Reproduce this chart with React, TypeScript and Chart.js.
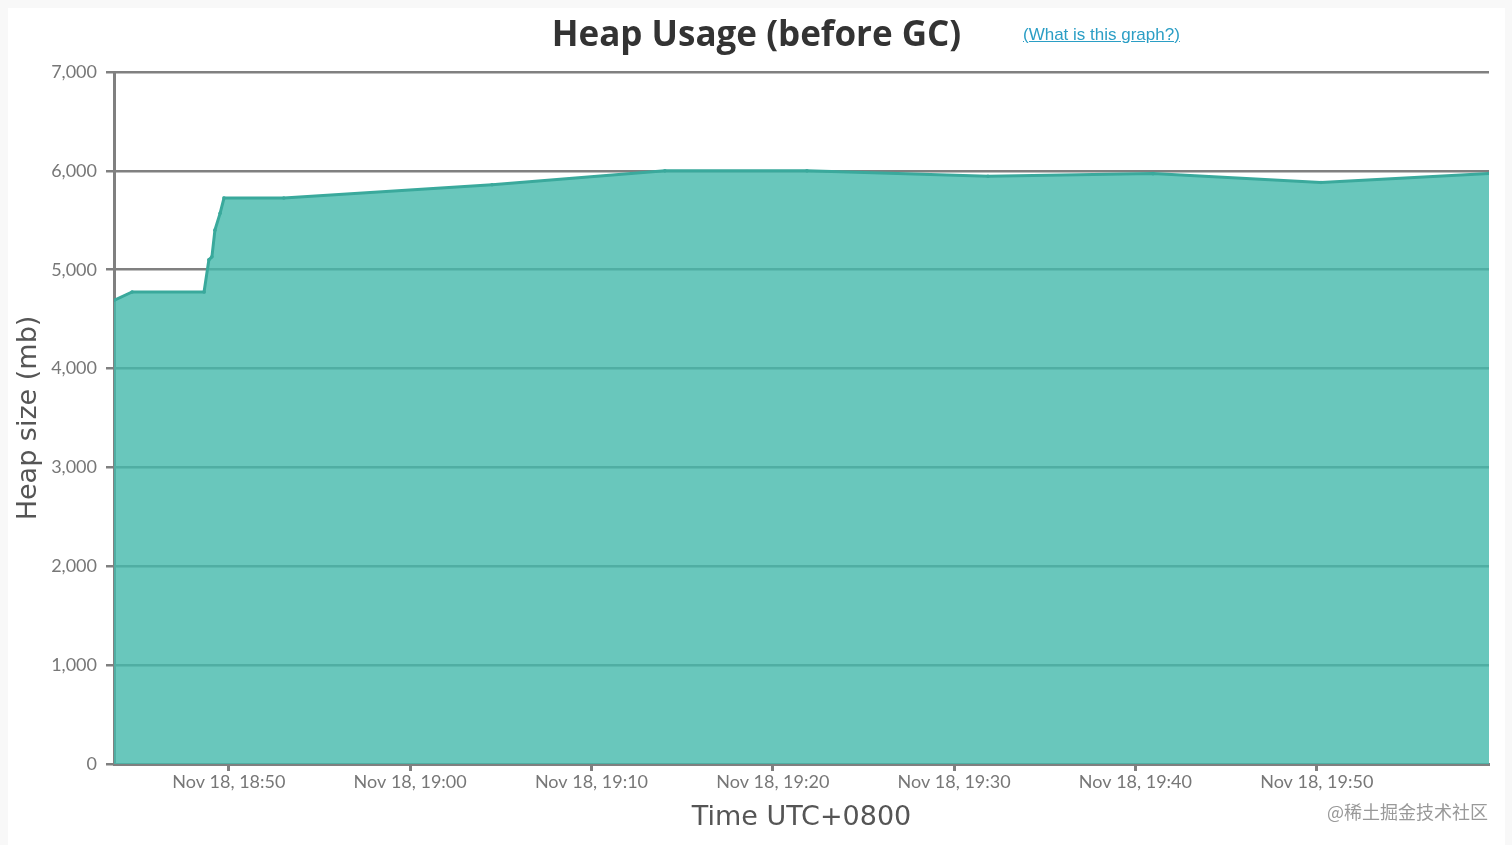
import React, { useEffect, useRef } from "react";
import { Chart, registerables } from "chart.js";

Chart.register(...registerables);

// Sample times (local, UTC+0800, Nov 18)
const sampleTimes = [
  "18:43:40", "18:44:40", "18:48:38", "18:48:54", "18:49:04", "18:49:14",
  "18:49:31", "18:49:44", "18:53:02", "19:04:31", "19:14:03", "19:21:53",
  "19:31:52", "19:40:58", "19:50:14", "19:59:30",
];
// Heap size before GC (mb)
const heapMb = [
  4690, 4775, 4775, 5100, 5130, 5400,
  5570, 5725, 5725, 5860, 6000, 6000,
  5945, 5972, 5882, 5974,
];
const xTickTimes = ["18:50", "19:00", "19:10", "19:20", "19:30", "19:40", "19:50"];
const xRange = ["18:43:40", "19:59:30"];
const yTicks = [0, 1000, 2000, 3000, 4000, 5000, 6000, 7000];
const datePrefix = "Nov 18, ";

const toMin = (s: string) => {
  const [h, m, sec = 0] = s.split(":").map(Number);
  return h * 60 + m + sec / 60;
};

const GRAY = "#808080";

export default function App() {
  const ref = useRef<HTMLCanvasElement | null>(null);

  useEffect(() => {
    if (!ref.current) return;
    const chart = new Chart(ref.current, {
      type: "line",
      data: {
        datasets: [
          {
            data: sampleTimes.map((t, i) => ({ x: toMin(t), y: heapMb[i] })),
            fill: "origin",
            backgroundColor: "rgba(68,185,171,0.8)",
            borderColor: "#3aa99c",
            borderWidth: 3,
            pointRadius: 1.8,
            pointBackgroundColor: "#3aa99c",
            pointBorderWidth: 0,
            tension: 0,
          },
        ],
      },
      options: {
        animation: false,
        responsive: false,
        layout: { padding: { left: 0, top: 64, right: 16, bottom: 0 } },
        plugins: { legend: { display: false }, tooltip: { enabled: false } },
        scales: {
          x: {
            type: "linear",
            min: toMin(xRange[0]),
            max: toMin(xRange[1]),
            afterBuildTicks: (s: any) => {
              s.ticks = xTickTimes.map((t) => ({ value: toMin(t) }));
            },
            afterFit: (s: any) => {
              s.height = 81;
            },
            ticks: {
              autoSkip: false,
              maxRotation: 0,
              padding: 0,
              color: "#777",
              font: { family: "Lato", size: 18 },
              callback: (v: any) => {
                const i = xTickTimes.findIndex((t) => Math.abs(toMin(t) - v) < 1e-6);
                return i >= 0 ? datePrefix + xTickTimes[i] : "";
              },
            },
            grid: {
              drawOnChartArea: false,
              drawTicks: true,
              tickLength: 7,
              tickColor: GRAY,
              tickWidth: 3,
            },
            border: { color: GRAY, width: 3 },
            title: {
              display: true,
              text: "Time UTC+0800",
              color: "#555",
              font: { family: "DejaVu Sans", size: 27 },
              padding: { top: 0, bottom: 11 },
            },
          },
          y: {
            min: 0,
            max: 7000,
            afterBuildTicks: (s: any) => {
              s.ticks = yTicks.map((v) => ({ value: v }));
            },
            afterFit: (s: any) => {
              s.width = 106;
            },
            ticks: {
              padding: 9,
              color: "#777",
              font: { family: "Lato", size: 18 },
              callback: (v: any) => Number(v).toLocaleString("en-US"),
            },
            grid: {
              color: GRAY,
              lineWidth: 2.5,
              tickLength: 8,
            },
            border: { color: GRAY, width: 3 },
            title: {
              display: true,
              text: "Heap size (mb)",
              color: "#555",
              font: { family: "DejaVu Sans", size: 27 },
              padding: { top: 5, bottom: 0 },
            },
          },
        },
      },
    } as any);
    return () => chart.destroy();
  }, []);

  return (
    <>
      <style>{"body{margin:0;background:#f8f8f8;}"}</style>
      <div
        style={{
          position: "absolute",
          left: 8,
          top: 8,
          width: 1497,
          height: 837,
          background: "#fff",
        }}
      >
        <canvas ref={ref} width={1497} height={837} style={{ display: "block" }} />
        <div
          style={{
            position: "absolute",
            left: 0,
            top: 5,
            width: "100%",
            textAlign: "center",
            fontFamily: "'Open Sans'",
            fontWeight: 700,
            fontSize: 35,
            lineHeight: "40px",
            color: "#333",
          }}
        >
          Heap Usage (before GC)
        </div>
        <a
          href="#"
          style={{
            position: "absolute",
            left: 1015,
            top: 17,
            fontFamily: "'Liberation Sans'",
            fontSize: 17,
            lineHeight: "20px",
            color: "#2b9ec5",
            textDecoration: "underline",
          }}
        >
          (What is this graph?)
        </a>
        <span
          style={{
            position: "absolute",
            right: 17,
            top: 792,
            fontFamily: "'Noto Sans CJK SC'",
            fontSize: 18,
            lineHeight: "22px",
            color: "#999",
          }}
        >
          @稀土掘金技术社区
        </span>
      </div>
    </>
  );
}
